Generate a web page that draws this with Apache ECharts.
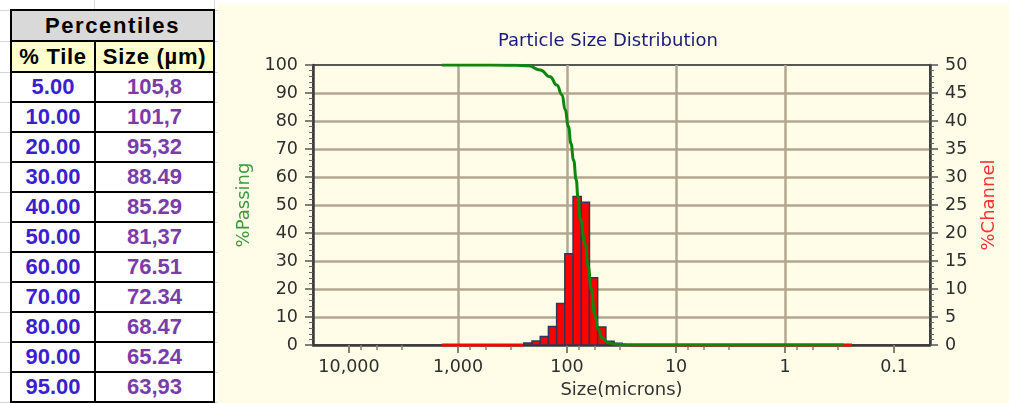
<!DOCTYPE html>
<html>
<head>
<meta charset="utf-8">
<title>Particle Size Distribution</title>
<script src="https://cdn.jsdelivr.net/npm/echarts@6.0.0/dist/echarts.min.js"></script>
<style>
  html, body { margin: 0; padding: 0; background: #ffffff; }
  body { position: relative; width: 1009px; height: 403px; overflow: hidden; }
  .sheet-line { position: absolute; height: 1px; background: #d6d6d6; }
  .sheet-vline { position: absolute; width: 1px; background: #d6d6d6; }
  #pct { position: absolute; left: 10px; top: 9px; border-collapse: collapse; table-layout: fixed; width: 203px;
         font-family: 'Liberation Sans', Arial, sans-serif; font-weight: bold; font-size: 22px; background: #fff; }
  #pct td, #pct th { border: 2px solid #000; padding: 0; text-align: center; vertical-align: middle; line-height: 22px; white-space: nowrap; }
  #pct tr.cap th { background: #d9d9d9; color: #000; height: 29px; letter-spacing: 1.6px; }
  #pct tr.hdr th { background: #ffffcc; color: #000; height: 29px; letter-spacing: 0.7px; }
  #pct tr.row td { height: 28px; }
  #pct td.tile { color: #3a1fd0; }
  #pct td.size { color: #7a3ca8; }
  #chart { position: absolute; left: 218px; top: 4px; width: 791px; height: 399px; background: #fffde8; }
</style>
</head>
<body>
<table id="pct">
  <colgroup><col style="width:84px"><col style="width:119px"></colgroup>
  <tr class="cap"><th colspan="2">Percentiles</th></tr>
  <tr class="hdr"><th>% Tile</th><th>Size (µm)</th></tr>
</table>
<div id="chart"></div>
<script>
// ---- Percentile table ----
const tilePct  = ['5.00', '10.00', '20.00', '30.00', '40.00', '50.00', '60.00', '70.00', '80.00', '90.00', '95.00'];
const tileSize = ['105,8', '101,7', '95,32', '88.49', '85.29', '81,37', '76.51', '72.34', '68.47', '65.24', '63,93'];

// ---- Axis ticks (microns, log scale, coarse on the left) ----
const sizeRange = [0.0468, 21380];
const tickSizes  = [10000, 1000, 100, 10, 1, 0.1];
const tickLabels = ['10,000', '1,000', '100', '10', '1', '0.1'];
const minorTickSizes = [7800, 5600, 3300, 780, 560, 330, 78, 56, 33, 7.8, 5.6, 3.3, 0.78, 0.56, 0.33];

// ---- Channel (histogram) data: upper edges of the sieve channels and % in each channel ----
const channelSizes = [1408, 1184, 995.6, 837.2, 704, 592, 497.8, 418.6, 352, 296,
                      248.9, 209.3, 176, 148, 124.5, 104.7, 88, 74, 62.23, 52.33,
                      44, 37, 31.11, 26.16, 22, 18.5, 15.56, 13.08, 11, 9.25,
                      7.778, 6.541, 5.5, 4.625, 3.889, 3.27, 2.75, 2.312, 1.945, 1.635,
                      1.375, 1.156, 0.972, 0.818, 0.688, 0.578, 0.486, 0.409, 0.344, 0.289, 0.243];
const channelPct = [0, 0, 0, 0, 0, 0, 0, 0, 0, 0,
                    0.35, 0.7, 1.5, 3.3, 7.4, 16.3, 26.5, 25.5, 12.0, 3.2,
                    0.65, 0.3, 0.1, 0, 0, 0, 0, 0, 0, 0,
                    0, 0, 0, 0, 0, 0, 0, 0, 0, 0,
                    0, 0, 0, 0, 0, 0, 0, 0, 0, 0];

// ---- Cumulative % passing curve ----
const passingSizes = [1408, 704, 352, 296, 225, 176, 143, 124, 111, 104, 97, 92, 87, 82.3, 79.4,
                      75.6, 68.1, 63.9, 60, 55.7, 51.7, 47.5, 41.9, 35.3, 29.2, 22, 0.289];
const passingPct   = [100, 100, 99.95, 99.9, 99.7, 98.2, 95.8, 92.9, 89.3, 84, 78, 72, 66, 59, 53,
                      45, 36, 28, 20, 11, 5.5, 2.5, 0.8, 0.25, 0.05, 0, 0];

// Build table rows
const table = document.getElementById('pct');
tilePct.forEach((p, i) => {
  const tr = document.createElement('tr');
  tr.className = 'row';
  tr.innerHTML = '<td class="tile">' + p + '</td><td class="size">' + tileSize[i] + '</td>';
  table.appendChild(tr);
});

// Faint worksheet gridlines around the table
(function drawSheetLines() {
  const rows = table.querySelectorAll('tr');
  const ys = [];
  rows.forEach(r => ys.push(r.getBoundingClientRect().top));
  ys.push(table.getBoundingClientRect().bottom - 1);
  const tb = table.getBoundingClientRect();
  ys.forEach(y => {
    [[0, tb.left], [tb.right, 218]].forEach(([a, b]) => {
      const d = document.createElement('div');
      d.className = 'sheet-line';
      d.style.left = a + 'px'; d.style.width = (b - a) + 'px'; d.style.top = Math.round(y) + 'px';
      document.body.appendChild(d);
    });
  });
  const firstCell = rows[1].children[0].getBoundingClientRect();
  [firstCell.right - 1, tb.right - 1].forEach(x => {
    const v = document.createElement('div');
    v.className = 'sheet-vline';
    v.style.left = Math.round(x) + 'px'; v.style.top = '0px'; v.style.height = tb.top + 'px';
    document.body.appendChild(v);
  });
})();

// ---- Chart ----
const FONT = "'DejaVu Sans', Verdana, sans-serif";
const GRID_COLOR = '#b3a792';
const AXIS_COLOR = '#3a3a3a';

const channelData = channelPct.map((v, i) => [channelSizes[i], channelSizes[i + 1], v]);
const passingData = passingSizes.map((s, i) => [s, passingPct[i]]);

function sizeLabel(v) {
  for (let i = 0; i < tickSizes.length; i++) {
    if (Math.abs(Math.log10(v) - Math.log10(tickSizes[i])) < 1e-6) return tickLabels[i];
  }
  return '';
}

function renderChannel(params, api) {
  const upper = api.value(0), lower = api.value(1), pct = api.value(2);
  const top = api.coord([upper, pct]);
  const base = api.coord([lower, 0]);
  const x = Math.min(top[0], base[0]);
  const w = Math.abs(base[0] - top[0]);
  if (pct === 0) {
    return { type: 'rect', shape: { x: x, y: base[1] - 1.5, width: w, height: 3 }, style: { fill: '#ff0000' } };
  }
  return {
    type: 'rect',
    shape: { x: x, y: top[1], width: w, height: base[1] - top[1] },
    style: { fill: '#ff0000', stroke: '#2d3852', lineWidth: 1.5 }
  };
}

const chart = echarts.init(document.getElementById('chart'), null, { renderer: 'canvas' });
chart.setOption({
  animation: false,
  backgroundColor: '#fffde8',
  title: {
    text: 'Particle Size Distribution',
    left: 280, top: 28, padding: 0,
    textStyle: { fontFamily: FONT, fontSize: 18, fontWeight: 'normal', color: '#1a1a78' }
  },
  grid: {
    left: 95, right: 79, top: 61, bottom: 58,
    show: true, borderColor: '#222', borderWidth: 1.5, backgroundColor: 'transparent',
    outerBoundsMode: 'none'
  },
  xAxis: [
    {
      type: 'log', logBase: 10, inverse: true, position: 'bottom',
      min: sizeRange[0], max: sizeRange[1],
      name: 'Size(microns)', nameLocation: 'middle', nameGap: 33,
      nameTextStyle: { fontFamily: FONT, fontSize: 18, color: '#333' },
      axisLine: { show: true, lineStyle: { color: AXIS_COLOR, width: 2.5 } },
      axisTick: { show: true, length: 8, customValues: tickSizes, lineStyle: { color: '#8a806f', width: 2 } },
      axisLabel: { show: true, customValues: tickSizes, margin: 13, fontFamily: FONT, fontSize: 17.5, color: '#2e2e2e', formatter: sizeLabel },
      splitLine: { show: true, showMinLine: false, showMaxLine: false, lineStyle: { color: GRID_COLOR, width: 2.5 } }
    },
    {
      type: 'log', logBase: 10, inverse: true, position: 'bottom',
      min: sizeRange[0], max: sizeRange[1],
      axisLine: { show: false },
      axisTick: { show: true, length: 5, customValues: minorTickSizes, lineStyle: { color: '#8a806f', width: 1.5 } },
      axisLabel: { show: false },
      splitLine: { show: false }
    }
  ],
  yAxis: [
    {
      type: 'value', position: 'left', min: 0, max: 100, interval: 10,
      name: '%Passing', nameLocation: 'middle', nameRotate: 90, nameGap: 60,
      nameTextStyle: { fontFamily: FONT, fontSize: 18, color: '#3c9a3c' },
      axisLine: { show: true, lineStyle: { color: AXIS_COLOR, width: 2.5 } },
      axisTick: { show: true, length: 8, lineStyle: { color: '#555', width: 1.5 } },
      minorTick: { show: true, splitNumber: 5, length: 4, lineStyle: { color: '#666', width: 1 } },
      axisLabel: { margin: 15, fontFamily: FONT, fontSize: 17.5, color: '#2e2e2e' },
      splitLine: { show: true, showMinLine: false, showMaxLine: false, lineStyle: { color: GRID_COLOR, width: 2.5 } }
    },
    {
      type: 'value', position: 'right', min: 0, max: 50, interval: 5,
      name: '%Channel', nameLocation: 'middle', nameRotate: 90, nameGap: 50,
      nameTextStyle: { fontFamily: FONT, fontSize: 18, color: '#ff3030' },
      axisLine: { show: true, lineStyle: { color: AXIS_COLOR, width: 2.5 } },
      axisTick: { show: true, length: 8, lineStyle: { color: '#555', width: 1.5 } },
      minorTick: { show: true, splitNumber: 5, length: 4, lineStyle: { color: '#666', width: 1 } },
      axisLabel: { margin: 15, fontFamily: FONT, fontSize: 17.5, color: '#2e2e2e' },
      splitLine: { show: false }
    }
  ],
  series: [
    {
      type: 'custom', name: '%Channel', xAxisIndex: 0, yAxisIndex: 1,
      renderItem: renderChannel, encode: { x: [0, 1], y: 2 },
      data: channelData, z: 2
    },
    {
      type: 'line', name: '%Passing', xAxisIndex: 0, yAxisIndex: 0,
      data: passingData, symbol: 'none', smooth: 0.5, smoothMonotone: 'x',
      lineStyle: { color: '#0f870f', width: 3 }, z: 3
    }
  ]
});
</script>
</body>
</html>
